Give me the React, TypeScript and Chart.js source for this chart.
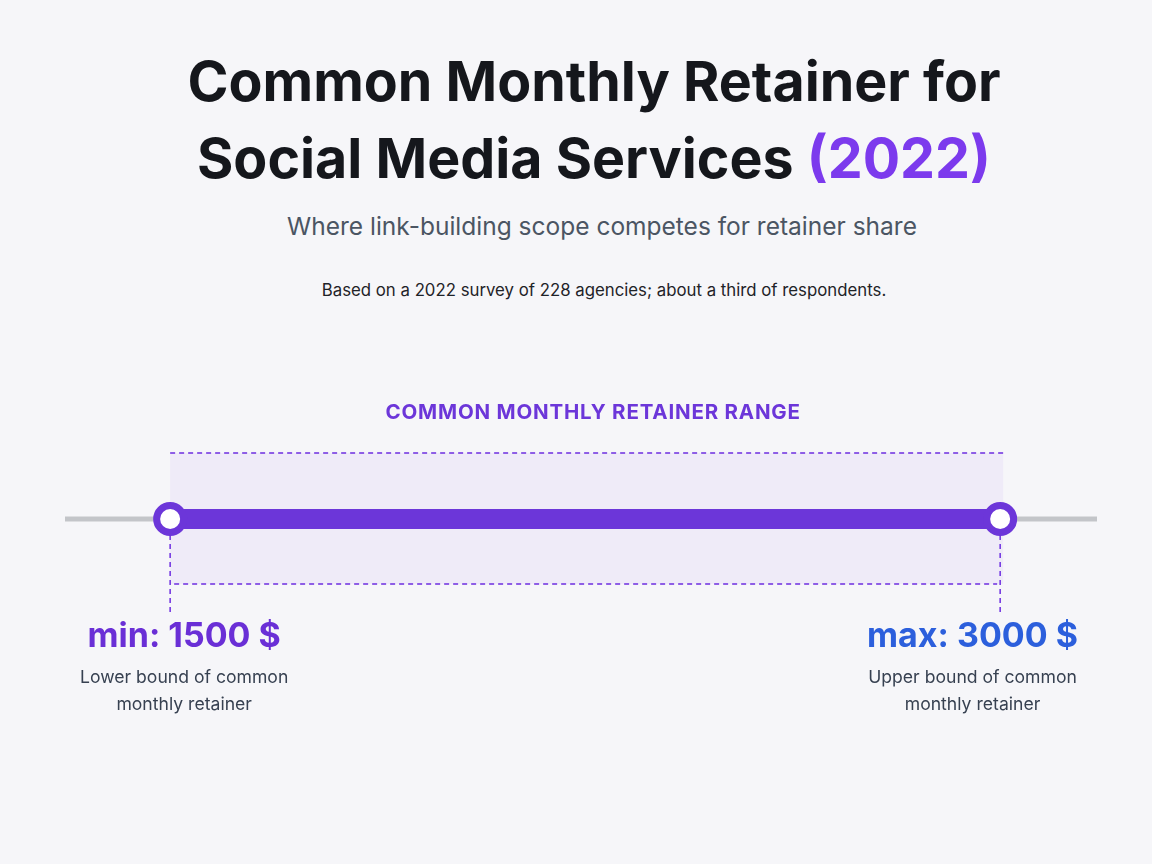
import { useEffect, useRef } from "react";
import { Chart, registerables } from "chart.js";

Chart.register(...registerables);

// range endpoints
const boundKeys = ["min", "max"];
const boundValues = [1500, 3000];
const boundUnit = "$";
const boundNotes = [
  ["Lower bound of common", "monthly retainer"],
  ["Upper bound of common", "monthly retainer"],
];
const boundColors = ["#6a2fd6", "#2c5fdc"];
// axis extent (the grey track)
const axisMin = 1310;
const axisMax = 3175;
const rangeLabel = "COMMON MONTHLY RETAINER RANGE";

const PURPLE = "#6c36d9";

const rangeDecor = {
  id: "rangeDecor",
  beforeDatasetsDraw(chart: any) {
    const { ctx, scales } = chart;
    const x1 = scales.x.getPixelForValue(boundValues[0]);
    const x2 = scales.x.getPixelForValue(boundValues[1]);
    const cy = scales.y.getPixelForValue(0);
    ctx.save();
    // shaded box
    ctx.fillStyle = "rgba(124, 58, 237, 0.055)";
    ctx.fillRect(x1, cy - 66, x2 - x1 + 3, 131);
    ctx.strokeStyle = "#6d2ee0";
    ctx.lineWidth = 1.5;
    ctx.setLineDash([5, 4]);
    ctx.beginPath();
    ctx.moveTo(x1, cy - 66);
    ctx.lineTo(x2 + 3, cy - 66);
    ctx.moveTo(x1 + 4, cy + 65);
    ctx.lineTo(x2 - 3, cy + 65);
    ctx.moveTo(x1, cy + 16);
    ctx.lineTo(x1, cy + 93);
    ctx.moveTo(x2, cy + 16);
    ctx.lineTo(x2, cy + 93);
    ctx.stroke();
    ctx.setLineDash([]);
    // range heading
    ctx.fillStyle = PURPLE;
    ctx.font = "700 20.5px Inter";
    ctx.letterSpacing = "0.8px";
    ctx.textAlign = "center";
    ctx.textBaseline = "middle";
    ctx.fillText(rangeLabel, (x1 + x2) / 2 + 8, cy - 106);
    ctx.restore();
  },
  afterDatasetsDraw(chart: any) {
    const { ctx, scales, chartArea } = chart;
    const cy = scales.y.getPixelForValue(0);
    ctx.save();
    ctx.textAlign = "center";
    ctx.textBaseline = "middle";
    boundValues.forEach((v, i) => {
      const px = scales.x.getPixelForValue(v);
      const label = `${boundKeys[i]}: ${v} ${boundUnit}`;
      ctx.font = "700 34px Inter";
      let w = ctx.measureText(label).width;
      ctx.font = "400 17.6px Inter";
      boundNotes[i].forEach((n) => {
        w = Math.max(w, ctx.measureText(n).width);
      });
      const lo = chartArea.left + 15 + w / 2;
      const hi = chartArea.right - 19 - w / 2;
      const cx = Math.min(Math.max(px, lo), hi);
      ctx.font = "700 34px Inter";
      ctx.fillStyle = boundColors[i];
      ctx.fillText(label, cx, cy + 118);
      ctx.font = "400 17.6px Inter";
      ctx.fillStyle = "#374151";
      boundNotes[i].forEach((n, j) => {
        ctx.fillText(n, cx, cy + 159 + j * 27);
      });
    });
    ctx.restore();
  },
};

const RangeChart = () => {
  const chartRef = useRef<HTMLCanvasElement>(null);

  useEffect(() => {
    if (!chartRef.current) return;
    const chart = new Chart(chartRef.current, {
      type: "line",
      data: {
        datasets: [
          {
            label: "track",
            data: [
              { x: axisMin, y: 0 },
              { x: axisMax, y: 0 },
            ],
            borderColor: "#c3c5c9",
            borderWidth: 5,
            borderCapStyle: "round",
            pointRadius: 0,
            order: 2,
          },
          {
            label: "range",
            data: boundValues.map((v) => ({ x: v, y: 0 })),
            borderColor: PURPLE,
            borderWidth: 20,
            pointRadius: 13.5,
            pointBorderWidth: 7,
            pointBackgroundColor: "#ffffff",
            pointBorderColor: PURPLE,
            order: 1,
          },
        ],
      },
      options: {
        animation: false,
        responsive: true,
        maintainAspectRatio: false,
        layout: { padding: { left: 65, right: 55, top: 100, bottom: 182 } },
        plugins: {
          legend: { display: false },
          tooltip: { enabled: false },
        },
        scales: {
          x: { type: "linear", min: axisMin, max: axisMax, display: false },
          y: { min: -1, max: 1, display: false },
        },
      },
      plugins: [rangeDecor],
    } as any);

    return () => {
      chart.destroy();
    };
  }, []);

  return <canvas ref={chartRef} />;
};

const textBlock = {
  position: "absolute" as const,
  left: 18,
  width: 1152,
  textAlign: "center" as const,
};

export default function App() {
  return (
    <div
      style={{
        position: "fixed",
        inset: 0,
        width: 1152,
        height: 864,
        background: "#f6f6f9",
        fontFamily: "Inter, sans-serif",
      }}
    >
      <div
        style={{
          ...textBlock,
          top: 42,
          fontSize: 55.5,
          lineHeight: "77px",
          fontWeight: 700,
          color: "#15171c",
        }}
      >
        Common Monthly Retainer for
        <br />
        Social Media Services <span style={{ color: "#7c3aed" }}>(2022)</span>
      </div>
      <div
        style={{
          ...textBlock,
          left: 26,
          top: 212,
          fontSize: 24.5,
          lineHeight: "28px",
          color: "#4b5563",
        }}
      >
        Where link-building scope competes for retainer share
      </div>
      <div
        style={{
          ...textBlock,
          left: 28,
          top: 279,
          fontSize: 16.8,
          lineHeight: "22px",
          color: "#1f2328",
        }}
      >
        Based on a 2022 survey of 228 agencies; about a third of respondents.
      </div>
      <div style={{ position: "absolute", top: 380, left: 0, width: 1152, height: 360 }}>
        <RangeChart />
      </div>
    </div>
  );
}
